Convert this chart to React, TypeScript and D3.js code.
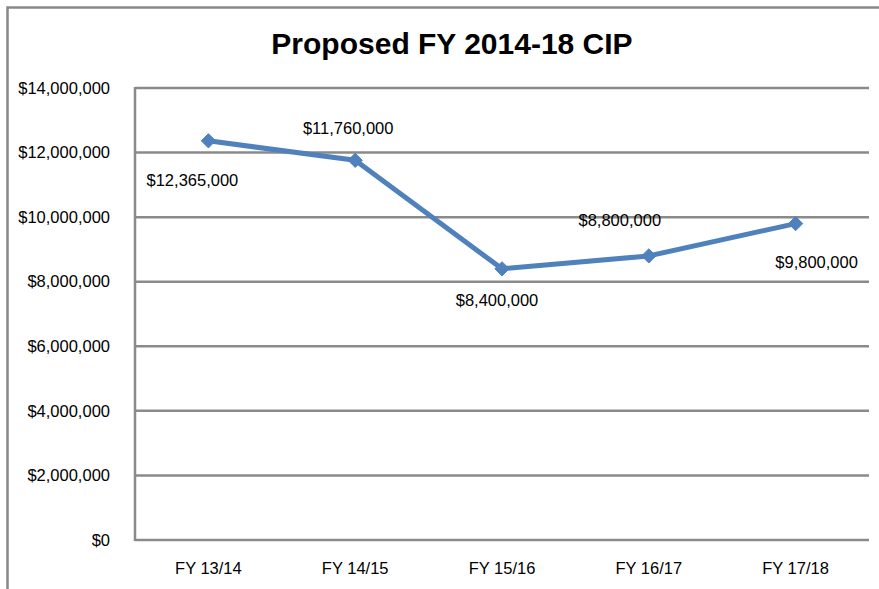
import React from "react";
import * as d3 from "d3";

const categories = ["FY 13/14", "FY 14/15", "FY 15/16", "FY 16/17", "FY 17/18"];
const values = [12365000, 11760000, 8400000, 8800000, 9800000];
const yTicks = [0, 2000000, 4000000, 6000000, 8000000, 10000000, 12000000, 14000000];
const title = "Proposed FY 2014-18 CIP";

// label offsets relative to each point (layout only)
const labelOffsets: [number, number][] = [
  [-16, 39],
  [-7, -32],
  [-5, 31],
  [-29, -36],
  [21, 39],
];

export default function App() {
  const W = 879;
  const H = 589;
  const left = 135;
  const right = 869;
  const top = 88;
  const bottom = 540;
  const font = "'Liberation Sans', Arial, sans-serif";

  const x = d3.scaleBand<string>().domain(categories).range([left, right]);
  const y = d3.scaleLinear().domain([0, 14000000]).range([bottom, top]);
  const fmt = (v: number) => "$" + d3.format(",")(v);
  const cx = (c: string) => (x(c) as number) + x.bandwidth() / 2;

  const line = d3
    .line<number>()
    .x((_, i) => cx(categories[i]))
    .y((d) => y(d));

  const diamond = d3.symbol().type(d3.symbolDiamond2).size(130)();

  return (
    <svg
      width={W}
      height={H}
      style={{ position: "absolute", left: 0, top: 0, background: "#fff" }}
    >
      <rect x={0} y={0} width={W} height={H} fill="#fff" />
      <path
        d={`M7.5,${H + 5} L7.5,7.5 L${W + 5},7.5`}
        fill="none"
        stroke="#888"
        strokeWidth={2.5}
      />
      <text
        x={452}
        y={54}
        textAnchor="middle"
        fontFamily={font}
        fontWeight="bold"
        fontSize={30}
        fill="#000"
      >
        {title}
      </text>
      {yTicks.map((t) => (
        <g key={t}>
          {t > 0 && (
            <line
              x1={left}
              x2={right}
              y1={y(t)}
              y2={y(t)}
              stroke="#8a8a8a"
              strokeWidth={2.5}
            />
          )}
          <text
            x={110}
            y={y(t)}
            dy="0.35em"
            textAnchor="end"
            fontFamily={font}
            fontSize={16.5}
            fill="#000"
          >
            {fmt(t)}
          </text>
        </g>
      ))}
      <line x1={left} x2={right} y1={bottom} y2={bottom} stroke="#8a8a8a" strokeWidth={2.5} />
      <line x1={left} x2={left} y1={top - 1} y2={bottom + 1} stroke="#8a8a8a" strokeWidth={2.5} />
      {categories.map((c) => (
        <text
          key={c}
          x={cx(c)}
          y={568}
          dy="0.35em"
          textAnchor="middle"
          fontFamily={font}
          fontSize={16.5}
          fill="#000"
        >
          {c}
        </text>
      ))}
      <path
        d={line(values) || ""}
        fill="none"
        stroke="#4F81BD"
        strokeWidth={5}
        strokeLinejoin="round"
      />
      {values.map((v, i) => (
        <path
          key={i}
          d={diamond || ""}
          transform={`translate(${cx(categories[i])},${y(v)})`}
          fill="#4F81BD"
          stroke="#4F81BD"
          strokeWidth={1}
        />
      ))}
      {values.map((v, i) => (
        <text
          key={"l" + i}
          x={cx(categories[i]) + labelOffsets[i][0]}
          y={y(v) + labelOffsets[i][1]}
          dy="0.35em"
          textAnchor="middle"
          fontFamily={font}
          fontSize={16.5}
          fill="#000"
        >
          {fmt(v)}
        </text>
      ))}
    </svg>
  );
}
